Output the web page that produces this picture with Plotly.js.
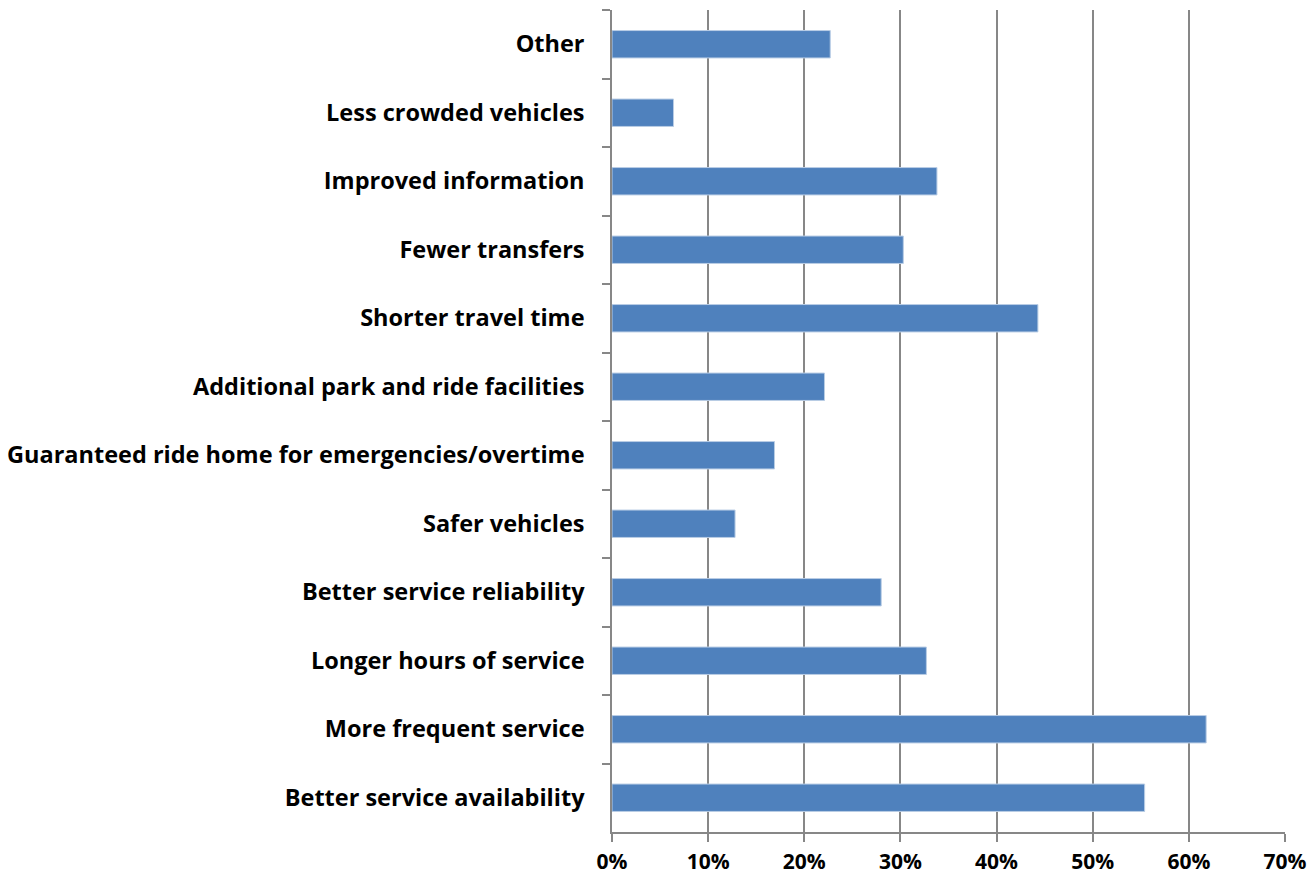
<!DOCTYPE html>
<html>
<head>
<meta charset="utf-8">
<script src="https://cdn.plot.ly/plotly-3.0.1.min.js"></script>
<style>html,body{margin:0;padding:0;background:#fff;}#chart{width:1316px;height:877px;}</style>
</head>
<body>
<div id="chart"></div>
<script>
// Categories listed top to bottom
const categories = [
  "Other",
  "Less crowded vehicles",
  "Improved information",
  "Fewer transfers",
  "Shorter travel time",
  "Additional park and ride facilities",
  "Guaranteed ride home for emergencies/overtime",
  "Safer vehicles",
  "Better service reliability",
  "Longer hours of service",
  "More frequent service",
  "Better service availability"
];
const shares = [0.227, 0.064, 0.338, 0.303, 0.443, 0.221, 0.169, 0.128, 0.280, 0.327, 0.618, 0.554];
const xTickVals = [0, 0.1, 0.2, 0.3, 0.4, 0.5, 0.6, 0.7];
const xTickText = ["0%", "10%", "20%", "30%", "40%", "50%", "60%", "70%"];

const trace = {
  type: "bar",
  orientation: "h",
  y: categories,
  x: shares,
  marker: {color: "#4F81BD", line: {color: "#B9CDE5", width: 1}},
  hoverinfo: "x+y"
};

const FONT = "'Open Sans', Lato, sans-serif";

const layout = {
  width: 1316, height: 877,
  margin: {l: 612, r: 31, t: 10, b: 45},
  paper_bgcolor: "#ffffff", plot_bgcolor: "#ffffff",
  font: {family: FONT, size: 22, color: "#000000", weight: "bold"},
  bargap: 0.6,
  showlegend: false,
  xaxis: {
    range: [0, 0.7],
    tickvals: xTickVals, ticktext: xTickText,
    showgrid: true, gridcolor: "#878787", gridwidth: 1.5,
    zeroline: false,
    showline: true, linecolor: "#878787", linewidth: 1.5,
    ticks: "outside", ticklen: 8, tickcolor: "#878787", tickwidth: 1.5,
    ticklabelstandoff: 2,
    tickfont: {family: FONT, size: 21, color: "#000", weight: "bold"},
    fixedrange: true
  },
  yaxis: {
    autorange: "reversed",
    type: "category",
    showgrid: false, zeroline: false,
    showline: true, linecolor: "#878787", linewidth: 1.5,
    ticks: "outside", tickson: "boundaries", ticklen: 8, tickcolor: "#878787", tickwidth: 1.5,
    ticklabelstandoff: 21,
    tickfont: {family: FONT, size: 23.5, color: "#000", weight: "bold"},
    fixedrange: true
  }
};

Plotly.newPlot("chart", [trace], layout, {displayModeBar: false, responsive: false});
</script>
</body>
</html>
